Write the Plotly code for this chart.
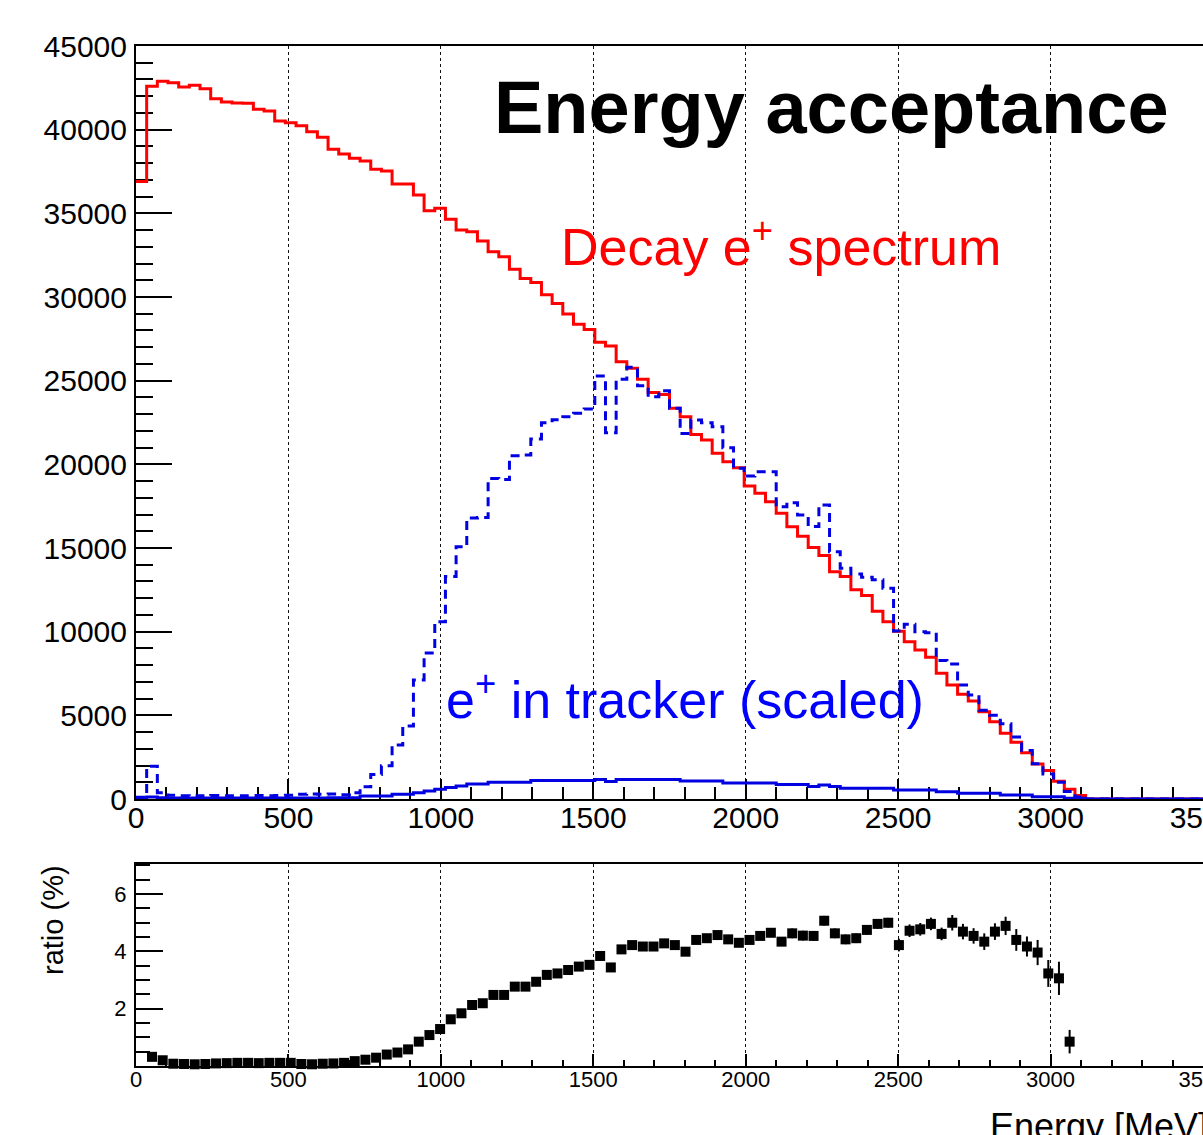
import numpy as np
import plotly.graph_objects as go

# Energy binning: 100 bins of 35 MeV from 0 to 3500 MeV
energy_edges = np.linspace(0, 3500, 101)
energy_centers = 0.5 * (energy_edges[:-1] + energy_edges[1:])

# Decay positron spectrum (counts per bin)
decay_spectrum = [
    36900, 42600, 42900, 42800, 42550, 42650, 42450, 41850, 41650, 41600,
    41580, 41220, 41120, 40520, 40420, 40240, 39880, 39540, 38830, 38550,
    38290, 38130, 37630, 37530, 36750, 36750, 36100, 35160, 35300, 34640,
    34000, 33900, 33350, 32710, 32410, 31660, 31100, 30860, 30130, 29610,
    28990, 28370, 28060, 27300, 27070, 26130, 25740, 25080, 24300, 24180,
    23350, 22850, 21790, 21450, 20660, 20160, 19800, 18710, 18270, 17770,
    17070, 16270, 15700, 15030, 14550, 13580, 13300, 12510, 12160, 11220,
    10590, 10030, 9400, 8900, 8470, 7510, 6810, 6260, 5860, 5220,
    4620, 3930, 3390, 2760, 2090, 1710, 1060, 590, 210, 0,
    0, 0, 0, 0, 0, 0, 0, 0, 0, 0,
]

# Positrons reaching the tracker, scaled up for shape comparison
tracker_scaled = [
    100, 1950, 380, 220, 200, 190, 200, 210, 200, 190,
    200, 210, 200, 210, 220, 280, 300, 280, 300, 260,
    380, 730, 1460, 1980, 3230, 4370, 7110, 8730, 10600, 13300,
    15070, 16790, 16830, 19160, 19100, 20510, 20560, 21510, 22490, 22660,
    22850, 23050, 23300, 25280, 21890, 25080, 25800, 24700, 24040, 24400,
    23350, 21850, 22650, 22490, 22250, 20990, 19760, 19300, 19560, 19560,
    17470, 17710, 16970, 16290, 17570, 14780, 13790, 13440, 13250, 13100,
    12600, 10040, 10440, 10000, 9940, 8270, 8070, 6810, 6220, 5300,
    5000, 4500, 3700, 2900, 2100, 1500, 1000, 450, 120, 0,
    0, 0, 0, 0, 0, 0, 0, 0, 0, 0,
]

# Positrons reaching the tracker (unscaled counts)
tracker_counts = [
    60, 120, 70, 60, 60, 60, 60, 60, 60, 60,
    60, 60, 60, 60, 60, 60, 60, 60, 80, 80,
    80, 180, 180, 180, 280, 280, 380, 480, 580, 680,
    780, 900, 900, 1000, 1000, 1000, 1000, 1100, 1100, 1100,
    1100, 1100, 1100, 1160, 1040, 1160, 1160, 1160, 1160, 1160,
    1160, 1080, 1080, 1080, 1080, 960, 960, 960, 960, 960,
    860, 860, 860, 740, 840, 740, 640, 640, 640, 640,
    640, 540, 540, 540, 540, 440, 440, 340, 340, 340,
    340, 240, 240, 240, 140, 140, 140, 40, 40, 0,
    0, 0, 0, 0, 0, 0, 0, 0, 0, 0,
]

# Acceptance ratio (%) for bins 1..87 and its uncertainty
ratio_first_bin = 1
ratio_pct = [
    0.32, 0.20, 0.08, 0.07, 0.06, 0.07, 0.09, 0.10, 0.11, 0.11,
    0.10, 0.11, 0.11, 0.11, 0.07, 0.06, 0.08, 0.09, 0.11, 0.17,
    0.22, 0.29, 0.40, 0.47, 0.58, 0.85, 1.08, 1.29, 1.63, 1.84,
    2.13, 2.19, 2.48, 2.48, 2.77, 2.77, 2.94, 3.18, 3.23, 3.35,
    3.47, 3.53, 3.84, 3.44, 4.07, 4.22, 4.17, 4.17, 4.28, 4.22,
    3.99, 4.40, 4.46, 4.57, 4.42, 4.30, 4.40, 4.54, 4.65, 4.34,
    4.63, 4.55, 4.54, 5.07, 4.63, 4.42, 4.46, 4.75, 4.96, 5.00,
    4.22, 4.72, 4.77, 4.96, 4.61, 5.00, 4.69, 4.54, 4.34, 4.69,
    4.89, 4.40, 4.17, 3.96, 3.23, 3.06, 0.85,
]
ratio_err = [
    0.05, 0.05, 0.05, 0.05, 0.05, 0.05, 0.05, 0.05, 0.05, 0.05,
    0.05, 0.05, 0.05, 0.05, 0.05, 0.05, 0.05, 0.05, 0.05, 0.05,
    0.05, 0.05, 0.05, 0.05, 0.05, 0.05, 0.05, 0.05, 0.05, 0.05,
    0.05, 0.05, 0.05, 0.05, 0.05, 0.05, 0.05, 0.05, 0.05, 0.05,
    0.12, 0.12, 0.12, 0.12, 0.12, 0.12, 0.12, 0.12, 0.12, 0.12,
    0.12, 0.12, 0.12, 0.12, 0.12, 0.12, 0.12, 0.12, 0.12, 0.12,
    0.17, 0.17, 0.17, 0.17, 0.17, 0.17, 0.17, 0.17, 0.17, 0.17,
    0.22, 0.22, 0.22, 0.22, 0.22, 0.27, 0.27, 0.27, 0.29, 0.29,
    0.32, 0.38, 0.35, 0.44, 0.47, 0.58, 0.41,
]

W, H = 1203, 1135
L = 136
FONT = "Liberation Sans, Arial, Helvetica, sans-serif"
RED = "#ff0000"
BLUE = "#0000e0"


def step_y(values):
    return list(values) + [values[-1]]


def px_x(px):
    return (px - L) / (W - L)


def px_y(py):
    return 1 - py / H


fig = go.Figure()

fig.add_trace(go.Scatter(
    x=energy_edges, y=step_y(decay_spectrum), mode="lines", line_shape="hv",
    line=dict(color=RED, width=3), xaxis="x", yaxis="y", showlegend=False,
))
fig.add_trace(go.Scatter(
    x=energy_edges, y=step_y(tracker_scaled), mode="lines", line_shape="hv",
    line=dict(color=BLUE, width=3, dash="9px,6px"), xaxis="x", yaxis="y",
    showlegend=False,
))
fig.add_trace(go.Scatter(
    x=energy_edges, y=step_y(tracker_counts), mode="lines", line_shape="hv",
    line=dict(color=BLUE, width=3), xaxis="x", yaxis="y", showlegend=False,
))

ratio_x = energy_centers[ratio_first_bin:ratio_first_bin + len(ratio_pct)]
fig.add_trace(go.Scatter(
    x=ratio_x, y=ratio_pct, mode="markers",
    marker=dict(symbol="square", size=10, color="black"),
    error_y=dict(type="data", array=ratio_err, color="black", thickness=2, width=0),
    cliponaxis=False, xaxis="x2", yaxis="y2", showlegend=False,
))

axis_common = dict(
    showline=True, linecolor="black", linewidth=2, ticks="inside",
    tickcolor="black", tickwidth=2, zeroline=False, layer="below traces",
    tickfont=dict(family=FONT, color="black"), automargin=False,
)

top_dom = [px_y(799), px_y(46)]
bot_dom = [px_y(1066), px_y(864)]

fig.update_layout(
    width=W, height=H, autosize=False,
    margin=dict(l=L, r=0, t=0, b=0, pad=0),
    paper_bgcolor="white", plot_bgcolor="white",
    font=dict(family=FONT, color="black"),
    xaxis=dict(
        **axis_common, domain=[0, 1], anchor="y", range=[0, 3500], mirror=True,
        tick0=0, dtick=500, ticklen=20, tickformat="d",
        minor=dict(ticks="inside", dtick=100, ticklen=12, tickcolor="black",
                   tickwidth=1.5, showgrid=False),
        showgrid=True, gridcolor="#111", griddash="dot", gridwidth=1.2,
        tickfont_size=30, ticklabeloverflow="allow", ticklabelstandoff=-9,
    ),
    yaxis=dict(
        **axis_common, domain=top_dom, anchor="x", range=[0, 45000],
        tick0=0, dtick=5000, ticklen=36, tickformat="d",
        minor=dict(ticks="inside", dtick=1000, ticklen=17, tickcolor="black",
                   tickwidth=1.5, showgrid=False),
        showgrid=False, tickfont_size=30, ticklabelstandoff=1,
    ),
    xaxis2=dict(
        **axis_common, domain=[0, 1], anchor="y2", range=[0, 3500], mirror=True,
        tick0=0, dtick=500, ticklen=12, tickformat="d",
        minor=dict(ticks="inside", dtick=100, ticklen=6, tickcolor="black",
                   tickwidth=1.5, showgrid=False),
        showgrid=True, gridcolor="#111", griddash="dot", gridwidth=1.2,
        tickfont_size=22, ticklabeloverflow="allow", ticklabelstandoff=-7,
    ),
    yaxis2=dict(
        **axis_common, domain=bot_dom, anchor="x2", range=[0, 7.05],
        tickmode="array", tickvals=[2, 4, 6], ticklen=27,
        minor=dict(ticks="inside", tick0=0, dtick=0.5, ticklen=14,
                   tickcolor="black", tickwidth=1.5, showgrid=False),
        showgrid=False, tickfont_size=22, ticklabelstandoff=3,
    ),
)

annotations = [
    dict(text="<b>Energy acceptance</b>", x=px_x(492), y=px_y(107),
         xanchor="left", yanchor="middle", font=dict(size=74, color="black")),
    dict(text="Decay e<sup>+</sup> spectrum", x=px_x(559), y=px_y(243),
         xanchor="left", yanchor="middle", font=dict(size=52, color=RED)),
    dict(text="e<sup>+</sup> in tracker (scaled)", x=px_x(444), y=px_y(696),
         xanchor="left", yanchor="middle", font=dict(size=52, color="#0000ff")),
    dict(text="ratio (%)", x=px_x(53), y=px_y(920), textangle=-90,
         xanchor="center", yanchor="middle", font=dict(size=29, color="black")),
    dict(text="Energy [MeV]", x=px_x(988), y=px_y(1126), xanchor="left",
         yanchor="middle", font=dict(size=36, color="black")),
]
for a in annotations:
    a.update(xref="paper", yref="paper", showarrow=False,
             font=dict(family=FONT, **a["font"]))
    fig.add_annotation(**a)

fig.write_html("out.html")
